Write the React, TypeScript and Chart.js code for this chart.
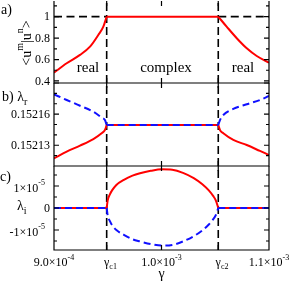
import React, { useEffect, useRef } from 'react';
import { Chart, registerables } from 'chart.js';

Chart.register(...registerables);

const FONT = '"Liberation Serif", "Times New Roman", serif';
const RED = '#ff0000';
const BLUE = '#1010ff';
const BLACK = '#000000';

// ---------- shared x axis ----------
const X_MIN = 9.0e-4;
const X_MAX = 1.1e-3;
const GAMMA_C1 = 9.49e-4;
const GAMMA_C2 = 1.0528e-3;
const xTickValues = [9.0e-4, GAMMA_C1, 1.0e-3, GAMMA_C2, 1.1e-3];
const xTickLabels = ['9.0×10^{-4}', 'γ_{c1}', '1.0×10^{-3}', 'γ_{c2}', '1.1×10^{-3}'];

// ---------- panel a : <u^m|u^n> ----------
const aLeftX = [9.0e-4, 9.118e-4, 9.242e-4, 9.335e-4, 9.412e-4, 9.459e-4, 9.49e-4];
const aLeftY = [0.478, 0.565, 0.643, 0.72, 0.829, 0.907, 1.0];
const aMidX = [GAMMA_C1, GAMMA_C2];
const aMidY = [1.0, 1.0];
const aRightX = [1.0528e-3, 1.0606e-3, 1.07e-3, 1.0793e-3, 1.0886e-3, 1.1e-3];
const aRightY = [1.0, 0.907, 0.799, 0.705, 0.633, 0.571];
const aRefLeftX = [X_MIN, GAMMA_C1];
const aRefRightX = [GAMMA_C2, X_MAX];
const aRefY = [1.0, 1.0];
const aMajor = [0.4, 0.6, 0.8, 1.0];
const aLabels = ['0.4', '0.6', '0.8', '1'];
const aMinor = [0.5, 0.7, 0.9, 1.1];
const regionLabels = ['real', 'complex', 'real'];
const regionX = [9.316e-4, 1.0042e-3, 1.0758e-3];
const regionY = 0.52;

// ---------- panel b : lambda_r ----------
const bLeftX = [9.0e-4, 9.118e-4, 9.242e-4, 9.366e-4, 9.443e-4, 9.475e-4, 9.49e-4];
const bRedLeftY = [0.1521174, 0.1521238, 0.1521296, 0.152136, 0.1521415, 0.152145, 0.1521495];
const bBlueLeftY = [0.1521791, 0.1521736, 0.1521681, 0.1521623, 0.1521566, 0.152154, 0.1521495];
const bMidX = [GAMMA_C1, GAMMA_C2];
const bMidY = [0.1521495, 0.1521495];
const bRightX = [1.0528e-3, 1.0545e-3, 1.0575e-3, 1.0668e-3, 1.0793e-3, 1.0916e-3, 1.1e-3];
const bRedRightY = [0.1521495, 0.1521445, 0.1521415, 0.1521351, 0.1521302, 0.1521245, 0.1521206];
const bBlueRightY = [0.1521495, 0.1521545, 0.1521592, 0.152165, 0.1521695, 0.1521736, 0.1521775];
const bMajor = [0.15213, 0.15216, 0.15219];
const bLabels = ['0.15213', '0.15216', ''];
const bMinor = [0.15212, 0.15214, 0.15215, 0.15217, 0.15218];

// ---------- panel c : lambda_i ----------
const cArcX = [9.49e-4, 9.5e-4, 9.52e-4, 9.54e-4, 9.58e-4, 9.65e-4, 9.73e-4, 9.8e-4, 9.9e-4, 1.0e-3,
  1.01e-3, 1.02e-3, 1.03e-3, 1.038e-3, 1.044e-3, 1.048e-3, 1.0505e-3, 1.0528e-3];
const cRedY = [0, 0.36e-5, 0.62e-5, 0.8e-5, 1.05e-5, 1.28e-5, 1.47e-5, 1.58e-5, 1.69e-5, 1.76e-5,
  1.74e-5, 1.6e-5, 1.36e-5, 1.08e-5, 0.8e-5, 0.55e-5, 0.35e-5, 0];
const cBlueY = [0, -0.36e-5, -0.6e-5, -0.78e-5, -1.0e-5, -1.22e-5, -1.42e-5, -1.52e-5, -1.64e-5, -1.71e-5,
  -1.68e-5, -1.52e-5, -1.28e-5, -1.02e-5, -0.75e-5, -0.52e-5, -0.32e-5, 0];
const cZeroLeftX = [X_MIN, GAMMA_C1];
const cZeroRightX = [GAMMA_C2, X_MAX];
const cZeroY = [0, 0];
const cMajor = [-1e-5, 0, 1e-5];
const cLabels = ['-1×10^{-5}', '0', '1×10^{-5}'];
const cMinor = [-1.5e-5, -0.5e-5, 0.5e-5, 1.5e-5];

// ---------- helpers ----------
type Part = { t: string; k: string };
function parseRich(s: string): Part[] {
  const out: Part[] = [];
  let buf = '';
  let i = 0;
  while (i < s.length) {
    const c = s[i];
    if ((c === '^' || c === '_') && s[i + 1] === '{') {
      if (buf) { out.push({ t: buf, k: '' }); buf = ''; }
      const j = s.indexOf('}', i);
      out.push({ t: s.slice(i + 2, j), k: c });
      i = j + 1;
    } else { buf += c; i++; }
  }
  if (buf) out.push({ t: buf, k: '' });
  return out;
}

function drawRich(ctx: CanvasRenderingContext2D, text: string, x: number, y: number, size: number, align: string) {
  const parts = parseRich(text);
  const sSize = Math.round(size * 0.68);
  const widths = parts.map((p) => {
    ctx.font = `${p.k ? sSize : size}px ${FONT}`;
    return ctx.measureText(p.t).width;
  });
  const total = widths.reduce((a, b) => a + b, 0);
  let x0 = x;
  if (align === 'right') x0 = x - total;
  else if (align === 'center') x0 = x - total / 2;
  else if (align === 'first') x0 = x - widths[0] / 2;
  ctx.textAlign = 'left';
  ctx.textBaseline = 'middle';
  parts.forEach((p, i) => {
    ctx.font = `${p.k ? sSize : size}px ${FONT}`;
    const dy = p.k === '^' ? -size * 0.45 : p.k === '_' ? size * 0.35 : 0;
    ctx.fillText(p.t, x0, y + dy);
    x0 += widths[i];
  });
}

const zip = (xs: number[], ys: number[]) => xs.map((x, i) => ({ x, y: ys[i] }));

function curve(xs: number[], ys: number[], color: string, dash: number[], order: number, smooth = true) {
  return {
    data: zip(xs, ys),
    borderColor: color,
    backgroundColor: color,
    borderWidth: 2,
    borderDash: dash,
    showLine: true,
    pointRadius: 0,
    fill: false,
    order,
    tension: 0,
    cubicInterpolationMode: smooth ? 'monotone' : 'default',
  };
}

function guide(xs: number[], ys: number[], dash: number[]) {
  return {
    data: zip(xs, ys),
    borderColor: BLACK,
    borderWidth: 1.6,
    borderDash: dash,
    showLine: true,
    pointRadius: 0,
    fill: false,
    order: 5,
    tension: 0,
  };
}

type FrameSpec = {
  major: number[];
  labels: string[];
  minor: number[];
  xLabels: boolean;
  extra?: (ctx: CanvasRenderingContext2D, chart: any) => void;
};

function framePlugin(spec: FrameSpec) {
  return {
    id: 'frame',
    afterDraw(chart: any) {
      const { ctx, chartArea: a, scales } = chart;
      const xs = scales.x;
      const ys = scales.y;
      ctx.save();
      ctx.strokeStyle = BLACK;
      ctx.lineWidth = 1.2;
      ctx.setLineDash([]);
      ctx.beginPath();
      ctx.moveTo(a.left, a.top);
      ctx.lineTo(a.left, a.bottom);
      ctx.lineTo(a.right, a.bottom);
      ctx.lineTo(a.right, a.top);
      xTickValues.forEach((v) => {
        const px = xs.getPixelForValue(v);
        ctx.moveTo(px, a.bottom); ctx.lineTo(px, a.bottom - 5);
        ctx.moveTo(px, a.top); ctx.lineTo(px, a.top + 5);
      });
      spec.major.forEach((v) => {
        const py = ys.getPixelForValue(v);
        ctx.moveTo(a.left, py); ctx.lineTo(a.left + 5, py);
        ctx.moveTo(a.right, py); ctx.lineTo(a.right - 5, py);
      });
      spec.minor.forEach((v) => {
        const py = ys.getPixelForValue(v);
        ctx.moveTo(a.left, py); ctx.lineTo(a.left + 3, py);
        ctx.moveTo(a.right, py); ctx.lineTo(a.right - 3, py);
      });
      ctx.stroke();

      ctx.fillStyle = BLACK;
      spec.labels.forEach((t, i) => {
        if (!t) return;
        const py = ys.getPixelForValue(spec.major[i]);
        const sup = t.includes('^');
        drawRich(ctx, t, sup ? 45 : 50, py + (sup ? 2.5 : 0.5), 12, 'right');
      });
      if (spec.xLabels) {
        xTickLabels.forEach((t, i) => {
          const px = xs.getPixelForValue(xTickValues[i]);
          drawRich(ctx, t, px, a.bottom + 13, 12, t.startsWith('γ') ? 'first' : 'center');
        });
        drawRich(ctx, 'γ', (a.left + a.right) / 2, a.bottom + 24, 14, 'center');
      }
      if (spec.extra) spec.extra(ctx, chart);
      ctx.restore();
    },
  };
}

function makeConfig(top: number, bottom: number, ymin: number, ymax: number, datasets: any[], spec: FrameSpec) {
  return {
    type: 'scatter',
    data: { datasets },
    options: {
      animation: false,
      responsive: false,
      devicePixelRatio: 1,
      events: [],
      layout: { padding: { left: 54, right: 22, top, bottom: 282 - bottom } },
      scales: {
        x: { type: 'linear', min: X_MIN, max: X_MAX, display: false },
        y: { type: 'linear', min: ymin, max: ymax, display: false },
      },
      plugins: { legend: { display: false }, tooltip: { enabled: false } },
    },
    plugins: [framePlugin(spec)],
  };
}

const VDASH = [8, 4];

function configA() {
  const ymin = 0.381, ymax = 1.146;
  return makeConfig(1, 83, ymin, ymax, [
    curve(aLeftX, aLeftY, RED, [], 1),
    curve(aMidX, aMidY, RED, [], 1, false),
    curve(aRightX, aRightY, RED, [], 1),
    guide(aRefLeftX, aRefY, [8, 4.5]),
    guide(aRefRightX, aRefY, [8, 4.5]),
    guide([GAMMA_C1, GAMMA_C1], [ymin, ymax], VDASH),
    guide([GAMMA_C2, GAMMA_C2], [ymin, ymax], VDASH),
  ], {
    major: aMajor, labels: aLabels, minor: aMinor, xLabels: false,
    extra: (ctx, chart) => {
      const xs = chart.scales.x, ys = chart.scales.y;
      regionLabels.forEach((t, i) => {
        drawRich(ctx, t, xs.getPixelForValue(regionX[i]), ys.getPixelForValue(regionY), 15, 'center');
      });
      drawRich(ctx, 'a)', 1, 10, 14, 'left');
      ctx.save();
      ctx.translate(27, 43);
      ctx.rotate(-Math.PI / 2);
      drawRich(ctx, '<u^{m}|u^{n}>', 0, 0, 14, 'center');
      ctx.restore();
    },
  });
}

function configB() {
  const ymin = 0.15211, ymax = 0.15219;
  return makeConfig(83, 166, ymin, ymax, [
    curve(bLeftX, bBlueLeftY, BLUE, [7, 4], 0),
    curve(bMidX, bMidY, BLUE, [7, 4], 0, false),
    curve(bRightX, bBlueRightY, BLUE, [7, 4], 0),
    curve(bLeftX, bRedLeftY, RED, [], 1),
    curve(bMidX, bMidY, RED, [], 1, false),
    curve(bRightX, bRedRightY, RED, [], 1),
    guide([GAMMA_C1, GAMMA_C1], [ymin, ymax], VDASH),
    guide([GAMMA_C2, GAMMA_C2], [ymin, ymax], VDASH),
  ], {
    major: bMajor, labels: bLabels, minor: bMinor, xLabels: false,
    extra: (ctx) => {
      drawRich(ctx, 'b) λ_{r}', 2, 97, 14, 'left');
    },
  });
}

function configC() {
  const ymin = -1.91e-5, ymax = 1.91e-5;
  return makeConfig(166, 250, ymin, ymax, [
    curve(cZeroLeftX, cZeroY, BLUE, [7, 4], 0, false),
    curve(cArcX, cBlueY, BLUE, [7, 4], 0),
    curve(cZeroRightX, cZeroY, BLUE, [7, 4], 0, false),
    curve(cZeroLeftX, cZeroY, RED, [], 1, false),
    curve(cArcX, cRedY, RED, [], 1),
    curve(cZeroRightX, cZeroY, RED, [], 1, false),
    guide([GAMMA_C1, GAMMA_C1], [ymin, ymax], VDASH),
    guide([GAMMA_C2, GAMMA_C2], [ymin, ymax], VDASH),
  ], {
    major: cMajor, labels: cLabels, minor: cMinor, xLabels: true,
    extra: (ctx) => {
      drawRich(ctx, 'c)', 0, 177.5, 14, 'left');
      drawRich(ctx, 'λ_{i}', 17, 206.5, 14, 'left');
    },
  });
}

function Panel({ make }: { make: () => any }) {
  const ref = useRef<HTMLCanvasElement>(null);
  useEffect(() => {
    const chart = new Chart(ref.current as HTMLCanvasElement, make());
    return () => chart.destroy();
  }, []);
  return (
    <canvas
      ref={ref}
      width={291}
      height={282}
      style={{ position: 'absolute', left: 0, top: 0, width: 291, height: 282 }}
    />
  );
}

export default function App() {
  return (
    <div style={{ position: 'fixed', left: 0, top: 0, width: 291, height: 282, background: '#ffffff', overflow: 'hidden' }}>
      <Panel make={configA} />
      <Panel make={configB} />
      <Panel make={configC} />
    </div>
  );
}
